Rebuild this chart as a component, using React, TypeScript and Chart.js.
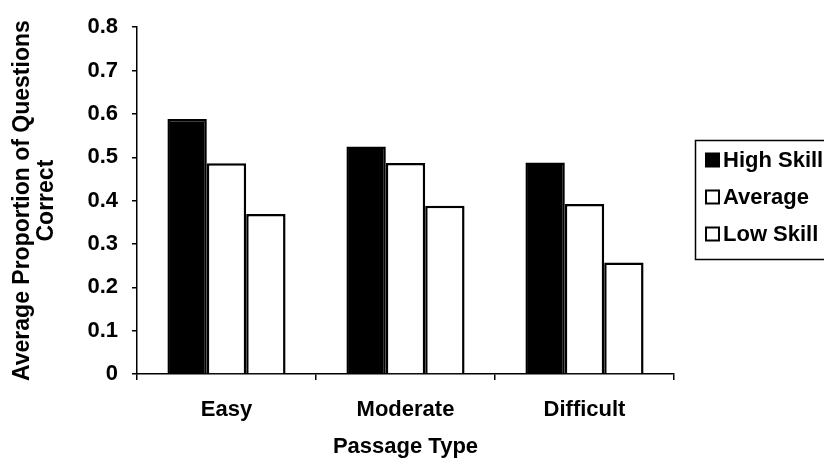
import { useEffect, useRef } from "react";
import { Chart, registerables } from "chart.js";

Chart.register(...registerables);

// Passage difficulty groups and reader skill series
const categories = ["Easy", "Moderate", "Difficult"];
const seriesNames = ["High Skill", "Average", "Low Skill"];
const highSkill = [0.588, 0.525, 0.488];
const averageSkill = [0.486, 0.487, 0.392];
const lowSkill = [0.369, 0.388, 0.257];
const yMin = 0;
const yMax = 0.8;
const yStep = 0.1;
const yTitle = ["Average Proportion of Questions", "Correct"];
const xTitle = "Passage Type";

const FONT = "'Liberation Sans', Arial, Helvetica, sans-serif";
const INK = "#000000";

// Legend drawn as a framed box to the right of the plot
const framedLegend = {
  id: "framedLegend",
  afterDraw(chart: any) {
    const { ctx } = chart;
    ctx.save();
    ctx.strokeStyle = INK;
    ctx.lineWidth = 1.5;
    ctx.strokeRect(695.5, 140.5, 160, 119);
    ctx.font = `bold 22px ${FONT}`;
    ctx.textBaseline = "middle";
    ctx.textAlign = "left";
    chart.data.datasets.forEach((ds: any, i: number) => {
      const cy = 160 + i * 37;
      ctx.fillStyle = ds.backgroundColor;
      ctx.fillRect(706, cy - 6.5, 13, 13);
      ctx.lineWidth = 2;
      ctx.strokeStyle = INK;
      ctx.strokeRect(706, cy - 6.5, 13, 13);
      ctx.fillStyle = INK;
      ctx.fillText(ds.label, 723, cy + 1);
    });
    ctx.restore();
  },
};

export default function App() {
  const canvasRef = useRef<HTMLCanvasElement | null>(null);

  useEffect(() => {
    if (!canvasRef.current) return;
    const fills = ["#000000", "#ffffff", "#ffffff"];
    const values = [highSkill, averageSkill, lowSkill];
    const chart = new Chart(canvasRef.current, {
      type: "bar",
      data: {
        labels: categories,
        datasets: seriesNames.map((name, i) => ({
          label: name,
          data: values[i],
          backgroundColor: fills[i],
          borderColor: INK,
          borderWidth: 2.5,
          categoryPercentage: 0.66,
          barPercentage: 1.0,
        })),
      },
      plugins: [framedLegend],
      options: {
        responsive: false,
        animation: false,
        events: [],
        layout: { padding: { left: 4, top: 11.8, right: 150, bottom: 7.8 } },
        plugins: {
          legend: { display: false },
          tooltip: { enabled: false },
        },
        scales: {
          x: {
            afterFit: (s: any) => {
              s.height = 86.2;
            },
            grid: {
              display: true,
              drawOnChartArea: false,
              drawTicks: true,
              tickLength: 6,
              color: INK,
              lineWidth: 1.5,
              offset: true,
            },
            border: { display: true, color: INK, width: 1.5 },
            ticks: {
              color: INK,
              padding: 17,
              font: { family: FONT, size: 22, weight: "bold" },
            },
            title: {
              display: true,
              text: xTitle,
              color: INK,
              padding: { top: 0, bottom: 0 },
              font: { family: FONT, size: 22, weight: "bold" },
            },
          },
          y: {
            min: yMin,
            max: yMax,
            afterFit: (s: any) => {
              s.width = 133;
            },
            grid: {
              display: true,
              drawOnChartArea: false,
              drawTicks: true,
              tickLength: 5,
              color: INK,
              lineWidth: 1.5,
            },
            border: { display: true, color: INK, width: 1.5 },
            ticks: {
              stepSize: yStep,
              color: INK,
              padding: 14,
              font: { family: FONT, size: 22, weight: "bold" },
              callback: (v: any) => (Number(v) === 0 ? "0" : Number(v).toFixed(1)),
            },
            title: {
              display: true,
              text: yTitle,
              color: INK,
              padding: { top: 7, bottom: 0 },
              font: { family: FONT, size: 23, weight: "bold", lineHeight: 24 / 23 },
            },
          },
        },
      },
    });
    return () => chart.destroy();
  }, []);

  return (
    <div style={{ position: "absolute", left: 0, top: 0, width: 824, height: 468, background: "#fff" }}>
      <canvas ref={canvasRef} width={824} height={468} />
    </div>
  );
}
